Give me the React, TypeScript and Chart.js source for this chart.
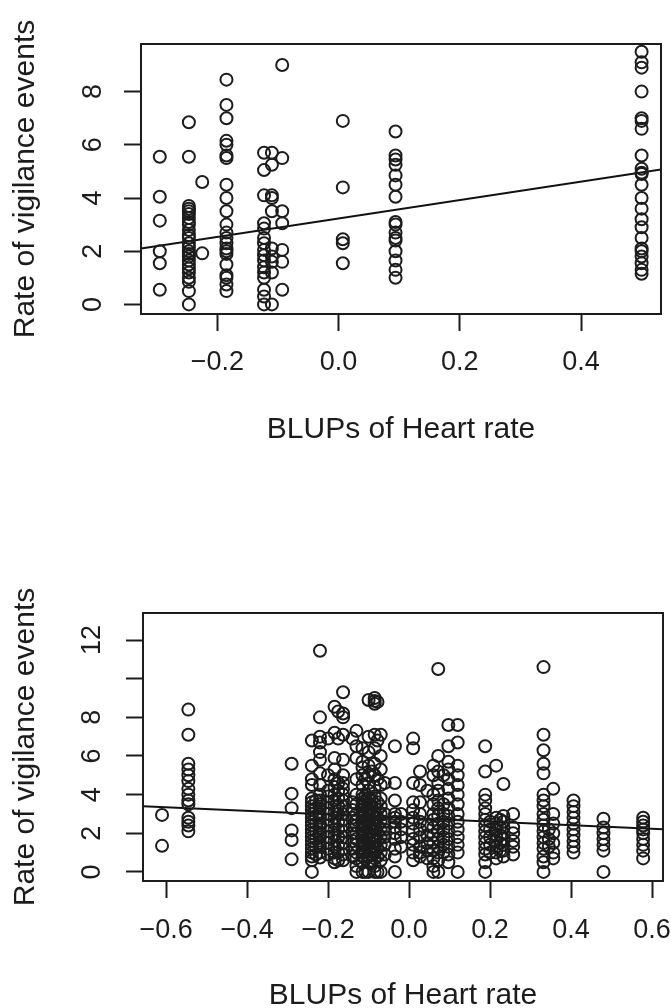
import React, { useEffect, useRef } from "react";
import { Chart, registerables } from "chart.js";

Chart.register(...registerables);

const FONT = "'Liberation Sans', Arial, Helvetica, sans-serif";
const INK = "#1c1c1c";

const X_TITLE = "BLUPs of Heart rate";
const Y_TITLE = "Rate of vigilance events";

// ---------- top panel ----------
const topXTicks = [-0.2, 0.0, 0.2, 0.4];
const topXTickLabels = ["\u22120.2", "0.0", "0.2", "0.4"];
const topYTicks = [0, 2, 4, 6, 8];
const topYTickLabels = ["0", "2", "4", "6", "8"];
const topXRange = [-0.326, 0.532];
const topYRange = [-0.36, 9.79];
const topColX = [-0.295, -0.247, -0.225, -0.185, -0.123, -0.11, -0.093, 0.007, 0.094, 0.5];
const topColY = [
  [5.55, 4.05, 3.15, 2.0, 1.55, 0.55],
  [6.85, 5.55, 3.7, 3.6, 3.5, 3.4, 3.25, 3.1, 3.0, 2.8, 2.6, 2.5, 2.3, 2.15, 2.0, 1.9, 1.8, 1.65, 1.5, 1.35, 1.2, 1.0, 0.85, 0.5, 0.0],
  [4.6, 1.92],
  [8.45, 7.5, 7.0, 6.15, 6.0, 5.6, 5.5, 4.5, 4.0, 3.5, 3.0, 2.7, 2.5, 2.3, 2.1, 2.0, 1.9, 1.5, 1.1, 1.0, 0.75, 0.5],
  [5.7, 5.05, 4.1, 3.05, 2.85, 2.5, 2.3, 2.05, 1.85, 1.65, 1.4, 1.2, 1.0, 0.55, 0.3, 0.0],
  [5.7, 5.25, 4.1, 4.0, 3.5, 2.1, 1.8, 1.6, 1.2, 0.0],
  [9.0, 5.5, 3.5, 3.05, 2.05, 1.6, 0.55],
  [6.9, 4.4, 2.45, 2.3, 1.55],
  [6.5, 5.6, 5.45, 5.25, 4.85, 4.5, 4.05, 3.1, 3.0, 2.7, 2.5, 2.4, 2.0, 1.65, 1.3, 1.0],
  [9.5, 9.1, 8.9, 8.0, 7.0, 6.9, 6.6, 5.6, 5.1, 4.95, 4.9, 4.5, 4.0, 3.6, 3.2, 2.9, 2.5, 2.1, 2.0, 1.8, 1.55, 1.3, 1.15],
];
const topFitX = [-0.326, 0.532];
const topFitY = [2.1, 5.07];

// ---------- bottom panel ----------
const botXTicks = [-0.6, -0.4, -0.2, 0.0, 0.2, 0.4, 0.6];
const botXTickLabels = ["\u22120.6", "\u22120.4", "\u22120.2", "0.0", "0.2", "0.4", "0.6"];
const botYTicks = [0, 2, 4, 6, 8, 10, 12];
const botYTickLabels = ["0", "2", "4", "6", "8", "", "12"];
const botXRange = [-0.657, 0.627];
const botYRange = [-0.47, 13.4];
const botColX = [
  -0.61, -0.545, -0.29, -0.24, -0.23, -0.22, -0.2, -0.184, -0.175, -0.163, -0.14, -0.13, -0.115, -0.108,
  -0.1, -0.092, -0.085, -0.078, -0.07, -0.06, -0.035, -0.02,
  0.01, 0.027, 0.045, 0.06, 0.072, 0.085, 0.097, 0.12, 0.188, 0.2, 0.215, 0.225, 0.233, 0.257,
  0.332, 0.345, 0.356, 0.406, 0.48, 0.578,
];
const botColY = [
  [2.95, 1.35],
  [8.4, 7.1, 5.6, 5.3, 5.0, 4.7, 4.3, 4.0, 3.7, 3.5, 2.8, 2.6, 2.4, 2.1],
  [5.6, 4.05, 3.3, 2.15, 1.65, 0.65],
  [6.8, 5.5, 4.8, 4.5, 3.8, 3.6, 3.4, 3.2, 3.0, 2.8, 2.6, 2.4, 2.2, 2.0, 1.8, 1.6, 1.4, 1.2, 1.0, 0.8, 0.6, 0.0],
  [3.7, 3.3, 2.9, 2.5, 2.1, 1.7, 1.3, 0.9],
  [11.45, 8.0, 7.0, 6.7, 6.2, 5.8, 5.1, 4.5, 4.0, 3.7, 3.5, 3.3, 3.0, 2.8, 2.5, 2.3, 2.0, 1.8, 1.5, 1.3, 1.0, 0.75],
  [6.9, 5.0, 4.2, 3.9, 3.6, 3.3, 3.0, 2.7, 2.4, 2.1, 1.8, 1.5, 1.2, 0.9],
  [8.55, 7.2, 5.9, 5.3, 4.8, 4.4, 4.0, 3.7, 3.4, 3.1, 2.8, 2.5, 2.2, 1.9, 1.6, 1.3, 1.0, 0.7, 0.5],
  [8.3, 6.9, 4.6, 4.2, 3.8, 3.4, 3.0, 2.6, 2.2, 1.8, 1.4, 1.0, 0.6],
  [9.3, 8.2, 8.0, 7.1, 5.8, 5.0, 4.6, 4.3, 4.0, 3.7, 3.4, 3.0, 2.7, 2.4, 2.1, 1.8, 1.5, 1.2, 0.9, 0.6],
  [6.9, 3.6, 3.2, 2.8, 2.4, 2.0, 1.6, 1.2, 0.8],
  [7.3, 6.5, 5.9, 4.8, 4.0, 3.5, 3.0, 2.7, 2.4, 2.0, 1.7, 1.4, 1.0, 0.7, 0.3, 0.0],
  [6.4, 5.7, 5.4, 5.0, 4.5, 4.0, 3.8, 3.6, 3.4, 3.2, 3.0, 2.8, 2.6, 2.4, 2.2, 2.0, 1.8, 1.6, 1.4, 1.2, 1.0, 0.8, 0.5, 0.0],
  [4.8, 3.9, 3.5, 3.1, 2.7, 2.3, 1.9, 1.5, 1.1, 0.7, 0.0],
  [8.9, 7.0, 6.2, 5.5, 5.0, 4.6, 4.2, 3.8, 3.5, 3.2, 2.9, 2.6, 2.3, 2.0, 1.7, 1.4, 1.1, 0.8, 0.5, 0.0],
  [5.2, 3.7, 3.3, 2.9, 2.5, 2.1, 1.7, 1.3, 0.9, 0.5],
  [9.0, 8.85, 8.7, 7.1, 6.4, 5.6, 5.0, 4.4, 3.9, 3.5, 3.1, 2.8, 2.5, 2.2, 1.9, 1.6, 1.3, 1.0, 0.7, 0.3, 0.0],
  [8.8, 6.8, 4.8, 3.6, 3.2, 2.8, 2.4, 2.0, 1.6, 1.2, 0.8, 0.0],
  [7.1, 6.0, 5.3, 4.5, 3.8, 3.4, 3.0, 2.6, 2.2, 1.8, 1.4, 1.0, 0.6, 0.0],
  [4.6, 3.0, 2.6, 2.2, 1.8, 1.4, 0.9],
  [6.5, 4.6, 3.7, 3.0, 2.8, 2.6, 2.3, 2.0, 1.7, 1.2, 0.8, 0.0],
  [3.0, 2.6, 2.2, 1.8, 1.3],
  [6.9, 6.4, 4.6, 3.6, 3.2, 2.8, 2.5, 2.1, 1.7, 1.4, 1.0, 0.6],
  [5.2, 4.5, 3.6, 3.0, 2.6, 2.2, 1.8, 1.3, 1.0, 0.8],
  [4.2, 2.4, 1.9, 1.5, 1.1, 0.7],
  [5.5, 5.0, 4.0, 3.5, 3.0, 2.7, 2.3, 1.9, 1.5, 1.1, 0.7, 0.3, 0.0],
  [10.5, 6.0, 5.2, 4.6, 4.2, 3.7, 3.3, 2.9, 2.5, 2.1, 1.7, 1.3, 1.0, 0.6, 0.0],
  [5.0, 3.5, 3.0, 2.6, 2.2, 1.8, 1.4, 1.0],
  [7.6, 6.5, 5.7, 5.3, 4.8, 4.3, 3.8, 3.3, 2.9, 2.5, 2.1, 1.7, 1.3, 0.9, 0.5],
  [7.6, 6.7, 5.5, 5.0, 4.5, 4.0, 3.5, 3.0, 2.6, 2.2, 1.8, 1.4, 1.0, 0.0],
  [6.5, 5.2, 4.0, 3.7, 3.3, 3.0, 2.7, 2.4, 2.1, 1.8, 1.5, 1.2, 0.9, 0.5, 0.0],
  [2.6, 2.2, 1.8, 1.4, 1.0],
  [5.5, 2.8, 2.5, 2.2, 1.9, 1.6, 1.3, 1.0, 0.7],
  [2.7, 2.3, 1.9, 1.5, 1.1],
  [4.55, 2.9, 2.6, 2.3, 2.0, 1.7, 1.4, 1.1, 0.8],
  [3.0, 2.3, 2.0, 1.6, 1.3, 0.9],
  [10.6, 7.1, 6.3, 5.6, 5.1, 4.0, 3.7, 3.4, 3.0, 2.7, 2.4, 2.1, 1.8, 1.5, 1.2, 0.8, 0.5, 0.0],
  [2.2, 1.7, 1.3],
  [4.3, 3.0, 2.5, 2.0, 1.5, 1.0, 0.7],
  [3.7, 3.4, 3.1, 2.8, 2.5, 2.2, 1.9, 1.6, 1.3, 1.0],
  [2.75, 2.3, 2.0, 1.7, 1.4, 1.1, 0.0],
  [2.8, 2.6, 2.4, 2.2, 2.0, 1.7, 1.4, 1.1, 0.7],
];
const botFitX = [-0.657, 0.627];
const botFitY = [3.4, 2.21];

type PanelSpec = {
  canvasTop: number;
  canvasHeight: number;
  padTop: number;
  padRight: number;
  yScaleWidth: number;
  xScaleHeight: number;
  xTitlePadBottom: number;
  yTickPad: number;
  xTickPad: number;
  xTicks: number[];
  xTickLabels: string[];
  yTicks: number[];
  yTickLabels: string[];
  xRange: number[];
  yRange: number[];
  colX: number[];
  colY: number[][];
  fitX: number[];
  fitY: number[];
};

const topSpec: PanelSpec = {
  canvasTop: 0,
  canvasHeight: 500,
  padTop: 44,
  padRight: 10,
  yScaleWidth: 141,
  xScaleHeight: 186,
  xTitlePadBottom: 52,
  yTickPad: 23,
  xTickPad: 15,
  xTicks: topXTicks,
  xTickLabels: topXTickLabels,
  yTicks: topYTicks,
  yTickLabels: topYTickLabels,
  xRange: topXRange,
  yRange: topYRange,
  colX: topColX,
  colY: topColY,
  fitX: topFitX,
  fitY: topFitY,
};

const botSpec: PanelSpec = {
  canvasTop: 500,
  canvasHeight: 530,
  padTop: 113,
  padRight: 8,
  yScaleWidth: 143,
  xScaleHeight: 149,
  xTitlePadBottom: 16,
  yTickPad: 18,
  xTickPad: 16,
  xTicks: botXTicks,
  xTickLabels: botXTickLabels,
  yTicks: botYTicks,
  yTickLabels: botYTickLabels,
  xRange: botXRange,
  yRange: botYRange,
  colX: botColX,
  colY: botColY,
  fitX: botFitX,
  fitY: botFitY,
};

const boxPlugin = {
  id: "rbox",
  afterDatasetsDraw(chart: any) {
    const { ctx, chartArea: a } = chart;
    ctx.save();
    ctx.strokeStyle = INK;
    ctx.lineWidth = 2;
    ctx.strokeRect(a.left, a.top, a.right - a.left, a.bottom - a.top);
    ctx.restore();
  },
};

function buildConfig(s: PanelSpec): any {
  const points: { x: number; y: number }[] = [];
  s.colX.forEach((x, i) => {
    s.colY[i].forEach((y) => points.push({ x, y }));
  });
  const fit = s.fitX.map((x, i) => ({ x, y: s.fitY[i] }));
  const grid = {
    drawOnChartArea: false,
    drawTicks: true,
    tickLength: 17,
    tickWidth: 2,
    tickColor: INK,
    color: INK,
  };
  return {
    type: "scatter",
    data: {
      datasets: [
        {
          data: points,
          showLine: false,
          pointRadius: 6,
          pointBorderWidth: 2,
          pointBorderColor: INK,
          pointBackgroundColor: "rgba(0,0,0,0)",
        },
        {
          data: fit,
          showLine: true,
          borderColor: "#111",
          borderWidth: 2,
          pointRadius: 0,
          fill: false,
        },
      ],
    },
    options: {
      responsive: false,
      animation: false,
      devicePixelRatio: 1,
      layout: { padding: { top: s.padTop, right: s.padRight, left: 0, bottom: 0 } },
      plugins: { legend: { display: false }, tooltip: { enabled: false } },
      scales: {
        x: {
          type: "linear",
          position: "bottom",
          min: s.xRange[0],
          max: s.xRange[1],
          bounds: "data",
          afterBuildTicks: (sc: any) => {
            sc.ticks = s.xTicks.map((v) => ({ value: v }));
          },
          afterFit: (sc: any) => {
            sc.height = s.xScaleHeight;
            sc.paddingLeft = 0;
            sc.paddingRight = 0;
          },
          grid,
          border: { display: false },
          ticks: {
            autoSkip: false,
            maxRotation: 0,
            minRotation: 0,
            padding: s.xTickPad,
            color: INK,
            font: { family: FONT, size: 27 },
            callback: (_v: any, i: number) => s.xTickLabels[i],
          },
          title: {
            display: true,
            text: X_TITLE,
            color: INK,
            font: { family: FONT, size: 30 },
            padding: { top: 0, bottom: s.xTitlePadBottom },
          },
        },
        y: {
          type: "linear",
          position: "left",
          min: s.yRange[0],
          max: s.yRange[1],
          bounds: "data",
          afterBuildTicks: (sc: any) => {
            sc.ticks = s.yTicks.map((v) => ({ value: v }));
          },
          afterFit: (sc: any) => {
            sc.width = s.yScaleWidth;
            sc.paddingTop = 0;
            sc.paddingBottom = 0;
          },
          grid,
          border: { display: false },
          ticks: {
            autoSkip: false,
            minRotation: 90,
            maxRotation: 90,
            crossAlign: "center",
            padding: s.yTickPad,
            color: INK,
            font: { family: FONT, size: 27 },
            callback: (_v: any, i: number) => s.yTickLabels[i],
          },
          title: {
            display: true,
            text: Y_TITLE,
            color: INK,
            font: { family: FONT, size: 30 },
            padding: { top: 8, bottom: 0 },
          },
        },
      },
    },
    plugins: [boxPlugin],
  };
}

function Panel({ spec }: { spec: PanelSpec }) {
  const ref = useRef<HTMLCanvasElement>(null);
  useEffect(() => {
    if (!ref.current) return;
    const chart = new Chart(ref.current, buildConfig(spec));
    return () => chart.destroy();
  }, [spec]);
  return (
    <canvas
      ref={ref}
      width={671}
      height={spec.canvasHeight}
      style={{
        position: "absolute",
        left: 0,
        top: spec.canvasTop,
        width: 671,
        height: spec.canvasHeight,
        display: "block",
      }}
    />
  );
}

export default function App() {
  return (
    <div
      style={{
        position: "absolute",
        left: 0,
        top: 0,
        width: 671,
        height: 1008,
        overflow: "hidden",
        background: "#fff",
      }}
    >
      <Panel spec={topSpec} />
      <Panel spec={botSpec} />
    </div>
  );
}
